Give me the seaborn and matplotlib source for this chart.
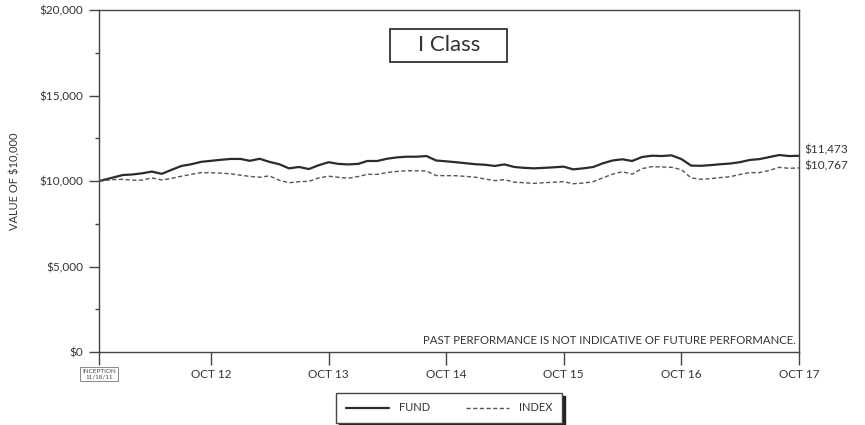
import numpy as np
import pandas as pd
import matplotlib
matplotlib.use("Agg")
import matplotlib.pyplot as plt
import matplotlib.patches as mpatches
import seaborn as sns

# Growth of $10,000 since inception (11/18/11), month-end values through Oct 2017
inception = "2011-11-18"
fund_values = [
    10000, 10050, 10200, 10350, 10380, 10450, 10550, 10420, 10650, 10880, 10980,
    11120, 11180, 11240, 11290, 11290, 11180, 11300, 11120, 10980, 10740, 10820,
    10700, 10920, 11100, 11000, 10970, 11000, 11170, 11170, 11300, 11380, 11420,
    11420, 11460, 11200, 11150, 11100, 11040, 10980, 10950, 10880, 10970, 10820,
    10770, 10740, 10770, 10800, 10840, 10680, 10740, 10820, 11030, 11200, 11270,
    11170, 11400, 11480, 11460, 11500, 11280, 10900, 10890, 10930, 10980, 11020,
    11100, 11230, 11280, 11400, 11520, 11460, 11473,
]
index_values = [
    10000, 10020, 10080, 10100, 10050, 10050, 10180, 10060, 10150, 10280, 10390,
    10490, 10480, 10460, 10420, 10340, 10270, 10220, 10300, 10040, 9900, 9960,
    9980, 10180, 10280, 10220, 10160, 10260, 10390, 10390, 10490, 10560, 10600,
    10600, 10580, 10320, 10310, 10310, 10270, 10220, 10120, 10020, 10080, 9930,
    9900, 9860, 9900, 9930, 9960, 9840, 9880, 9960, 10180, 10400, 10540,
    10400, 10720, 10840, 10820, 10800, 10660, 10180, 10100, 10140, 10200, 10250,
    10380, 10490, 10490, 10620, 10800, 10740, 10767,
]
tick_dates = ["2012-10-31", "2013-10-31", "2014-10-31", "2015-10-31", "2016-10-31", "2017-10-31"]
tick_labels = ["OCT 12", "OCT 13", "OCT 14", "OCT 15", "OCT 16", "OCT 17"]
y_ticks = [0, 5000, 10000, 15000, 20000]
y_labels = ["$0", "$5,000", "$10,000", "$15,000", "$20,000"]

dates = pd.to_datetime([inception] + list(pd.date_range("2011-11-30", "2017-10-31", freq="ME").strftime("%Y-%m-%d")))
df = pd.DataFrame({"date": dates, "FUND": fund_values, "INDEX": index_values})

sns.set_theme(style="white")
plt.rcParams["font.family"] = ["Lato", "DejaVu Sans"]

fig = plt.figure(figsize=(8.65, 4.25), dpi=100)
ax = fig.add_axes([99 / 865, 73 / 425, 700 / 865, 342 / 425])

sns.lineplot(data=df, x="date", y="FUND", ax=ax, color="#2b2b2b", linewidth=1.6, label="FUND")
sns.lineplot(data=df, x="date", y="INDEX", ax=ax, color="#555555", linewidth=1.0,
             linestyle=(0, (3, 1.8)), label="INDEX")

start = pd.Timestamp(inception)
end = pd.Timestamp("2017-10-31")
ax.set_xlim(start, end)
ax.set_ylim(0, 20000)

for s in ax.spines.values():
    s.set_color("#444444")
    s.set_linewidth(1.0)

ax.set_yticks(y_ticks)
ax.set_yticklabels(y_labels)
ax.set_yticks([2500, 7500, 12500, 17500], minor=True)
ax.tick_params(axis="y", which="major", direction="out", length=7.5, width=1.0,
               color="#444444", labelsize=8.5, labelcolor="#333333", pad=4, left=True)
ax.tick_params(axis="y", which="minor", direction="out", length=3, width=1.0,
               color="#444444", left=True)

xt = [start] + list(pd.to_datetime(tick_dates))
ax.set_xticks(xt)
ax.set_xticklabels([""] + tick_labels)
ax.tick_params(axis="x", which="major", direction="out", length=9, width=1.0,
               color="#444444", labelsize=8.5, labelcolor="#333333", pad=3, bottom=True)

ax.set_xlabel("")
ax.set_ylabel("VALUE OF $10,000", fontsize=8, color="#333333")
ax.yaxis.set_label_coords(-0.112, 0.5)

# Inception marker below the first tick
ax.annotate("INCEPTION\n11/18/11", xy=(0, 0), xycoords="axes fraction",
            xytext=(0, -12.5), textcoords="offset points", ha="center", va="top",
            fontsize=4.6, color="#444444", linespacing=1.05,
            bbox=dict(boxstyle="square,pad=0.3", fc="white", ec="#888888", lw=0.7))

# Ending values at the right edge
ax.annotate(f"${fund_values[-1]:,}", xy=(1, fund_values[-1]), xycoords=("axes fraction", "data"),
            xytext=(4, 4.5), textcoords="offset points", ha="left", va="center",
            fontsize=8.5, color="#333333")
ax.annotate(f"${index_values[-1]:,}", xy=(1, index_values[-1]), xycoords=("axes fraction", "data"),
            xytext=(4, 1.2), textcoords="offset points", ha="left", va="center",
            fontsize=8.5, color="#333333")

# Title box
ax.add_patch(mpatches.Rectangle((0.4157, 0.848), 0.1671, 0.096, transform=ax.transAxes,
                                fc="white", ec="#333333", lw=1.3, zorder=5))
ax.text(0.5, 0.897, "I Class", transform=ax.transAxes, ha="center", va="center",
        fontsize=16, color="#333333", zorder=6)

ax.text(0.995, 0.018, "PAST PERFORMANCE IS NOT INDICATIVE OF FUTURE PERFORMANCE.",
        transform=ax.transAxes, ha="right", va="bottom", fontsize=8.2, color="#333333")

leg = ax.legend(loc="upper center", bbox_to_anchor=(0.5, -0.12), ncol=2, frameon=True,
                fancybox=False, shadow={"color": "#222222", "alpha": 1.0},
                fontsize=8, handlelength=3.9, columnspacing=3.2, handletextpad=0.9,
                borderpad=0.85, borderaxespad=0)
leg.get_frame().set_edgecolor("#444444")
leg.get_frame().set_linewidth(1.0)
for t in leg.get_texts():
    t.set_color("#333333")

fig.savefig("out.png", dpi=100, facecolor="white")
